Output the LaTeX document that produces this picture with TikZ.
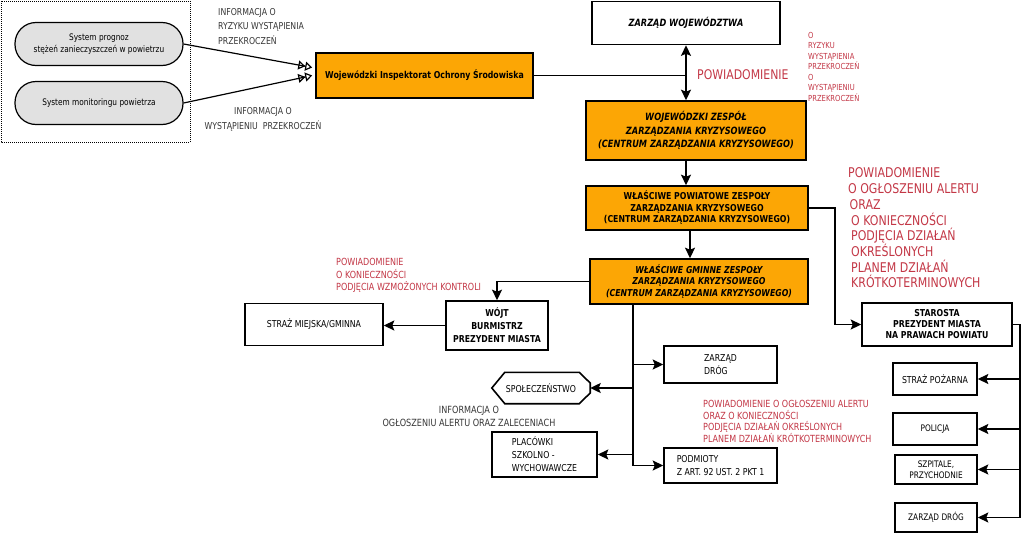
\documentclass[tikz,border=0pt]{standalone}
\usepackage{fontspec}
\setmainfont{DejaVu Sans}[FakeStretch=0.82]
\usetikzlibrary{arrows.meta}
\definecolor{orangeC}{RGB}{252,166,5}
\definecolor{redT}{RGB}{195,55,70}
\definecolor{grayT}{RGB}{55,55,55}
\definecolor{pill}{RGB}{225,225,225}
\newcommand\myfs[2]{\fontsize{#1}{#2}\selectfont}
\begin{document}
\begin{tikzpicture}[x=1pt,y=-1pt,
 box/.style={draw,line width=1.6pt,inner sep=1pt,align=center,font=\myfs{9.5}{12}},
 obox/.style={box,fill=orangeC},
 sbox/.style={draw,line width=1.2pt,fill=pill,rounded corners=21pt,minimum width=168pt,minimum height=43pt,font=\myfs{9}{11.5},align=center},
 conn/.style={line width=1.5pt},
 arr/.style={conn,-{Stealth[length=10.5pt,width=10pt,inset=2pt]}},
 lbl/.style={inner sep=0pt,align=left,anchor=west},
 otip/.style={line width=1.2pt,-{Triangle[open,length=7pt,width=9pt,line width=1.2pt]Triangle[open,length=7pt,width=9pt,line width=1.2pt]}}
]
\useasboundingbox (0,0) rectangle (1024,533);
\fill[white] (0,0) rectangle (1024,533);

% dotted frame
\draw[line width=1pt,dash pattern=on 1pt off 1pt] (1,1) rectangle (190,142);

% nodes
\node[sbox] (prog) at (99,44) {System prognoz\\stężeń zanieczyszczeń w powietrzu};
\node[sbox] (mon) at (99,103) {System monitoringu powietrza};
\node[obox,minimum width=217pt,minimum height=45pt,font=\bfseries\myfs{9.5}{12}] (wios) at (424.5,75.5) {Wojewódzki Inspektorat Ochrony Środowiska};
\node[box,minimum width=188pt,minimum height=43pt,font=\bfseries\itshape\myfs{10}{12}] (zw) at (686,23) {ZARZĄD WOJEWÓDZTWA};
\node[obox,minimum width=220pt,minimum height=59pt,font=\bfseries\itshape\myfs{10}{13.5}] (wzzk) at (696,130.5) {WOJEWÓDZKI ZESPÓŁ\\ZARZĄDZANIA KRYZYSOWEGO\\(CENTRUM ZARZĄDZANIA KRYZYSOWEGO)};
\node[obox,minimum width=222pt,minimum height=44pt,font=\bfseries\myfs{9.5}{11.5}] (pow) at (697,208) {WŁAŚCIWE POWIATOWE ZESPOŁY\\ZARZĄDZANIA KRYZYSOWEGO\\(CENTRUM ZARZĄDZANIA KRYZYSOWEGO)};
\node[obox,minimum width=218pt,minimum height=45pt,font=\bfseries\itshape\myfs{9.5}{11.5}] (gm) at (699,281.5) {WŁAŚCIWE GMINNE ZESPOŁY\\ZARZĄDZANIA KRYZYSOWEGO\\(CENTRUM ZARZĄDZANIA KRYZYSOWEGO)};
\node[box,minimum width=150pt,minimum height=43pt,font=\bfseries\myfs{9.5}{11}] (star) at (937,324.5) {STAROSTA\\PREZYDENT MIASTA\\NA PRAWACH POWIATU};
\node[box,minimum width=84pt,minimum height=32pt] (sp) at (935,379) {STRAŻ POŻARNA};
\node[box,minimum width=84pt,minimum height=32pt,font=\myfs{9}{11}] (pol) at (935,429) {POLICJA};
\node[box,minimum width=82pt,minimum height=29pt,font=\myfs{9}{11}] (szp) at (936,469.5) {SZPITALE,\\ PRZYCHODNIE};
\node[box,minimum width=82pt,minimum height=29pt,font=\myfs{9}{11}] (zd2) at (936,517.5) {ZARZĄD DRÓG};
\node[box,minimum width=102pt,minimum height=49pt,font=\bfseries\myfs{9.5}{13}] (wojt) at (497,325.5) {WÓJT\\BURMISTRZ\\PREZYDENT MIASTA};
\node[box,minimum width=138pt,minimum height=42pt] (smg) at (314,324.5) {STRAŻ MIEJSKA/GMINNA};
\node[box,minimum width=113pt,minimum height=37pt,align=left,font=\myfs{9.5}{12.5}] (zd1) at (720.5,364.5) {ZARZĄD\\DRÓG};
\node[inner sep=1pt,minimum width=98pt,minimum height=31pt,font=\myfs{9.5}{12}] (spol) at (541,388) {SPOŁECZEŃSTWO};
\node[box,minimum width=105pt,minimum height=45pt,align=left,font=\myfs{9.5}{13}] (plac) at (544.5,454.5) {PLACÓWKI\\SZKOLNO -\\WYCHOWAWCZE};
\node[box,minimum width=113pt,minimum height=35pt,align=left,font=\myfs{9.5}{13}] (pod) at (720.5,465.5) {PODMIOTY\\Z ART. 92 UST. 2 PKT 1};

\draw[line width=1.6pt] (spol.west) -- ([xshift=13pt]spol.north west) -- ([xshift=-11pt]spol.north east) -- ([yshift=5pt]spol.east) -- ([yshift=-5pt]spol.east) -- ([xshift=-11pt]spol.south east) -- ([xshift=13pt]spol.south west) -- cycle;

% labels
\node[lbl,text=grayT,font=\myfs{9.5}{14.5}] (l1) at (218,26.5) {INFORMACJA O\\ RYZYKU WYSTĄPIENIA\\ PRZEKROCZEŃ};
\node[inner sep=0pt,align=center,text=grayT,font=\myfs{9.5}{15}] (l2) at (263,119.5) {INFORMACJA O\\WYSTĄPIENIU\ \ PRZEKROCZEŃ};
\node[lbl,text=redT,font=\myfs{13.3}{15}] (l3) at (697,75) {POWIADOMIENIE};
\node[lbl,text=redT,font=\myfs{8.3}{10.5}] (l4) at (808,66.5) {O\\RYZYKU\\WYSTĄPIENIA\\PRZEKROCZEŃ\\O\\WYSTĄPIENIU\\PRZEKROCZEŃ};
\node[lbl,text=redT,font=\myfs{13.4}{15.7}] (l5) at (848,228) {POWIADOMIENIE\\O OGŁOSZENIU ALERTU\\\hspace*{1.5pt}ORAZ\\\hspace*{3pt}O KONIECZNOŚCI\\\hspace*{3pt}PODJĘCIA DZIAŁAŃ\\\hspace*{3pt}OKREŚLONYCH\\\hspace*{3pt}PLANEM DZIAŁAŃ\\\hspace*{3pt}KRÓTKOTERMINOWYCH};
\node[lbl,text=redT,font=\myfs{9.8}{12.5}] (l6) at (336,275.5) {POWIADOMIENIE\\O KONIECZNOŚCI\\PODJĘCIA WZMOŻONYCH KONTROLI};
\node[lbl,text=redT,font=\myfs{9.8}{11.7}] (l7) at (703,421.5) {POWIADOMIENIE O OGŁOSZENIU ALERTU\\ORAZ O KONIECZNOŚCI\\PODJĘCIA DZIAŁAŃ OKREŚLONYCH\\PLANEM DZIAŁAŃ KRÓTKOTERMINOWYCH};
\node[inner sep=0pt,align=center,text=grayT,font=\myfs{9.9}{13}] (l8) at (469,416.5) {INFORMACJA O\\OGŁOSZENIU ALERTU ORAZ ZALECENIACH};

% connectors
\draw[otip] (prog.east) -- ([xshift=-3pt,yshift=8pt]wios.west);
\draw[otip] (mon.east) -- ([xshift=-3pt,yshift=0pt]wios.west);
\draw[conn] (wios.east) -- (wios.east -| zw.south);
\draw[conn,{Stealth[length=10.5pt,width=10pt,inset=2pt]}-{Stealth[length=10.5pt,width=10pt,inset=2pt]}] (zw.south) -- (zw.south |- wzzk.north);
\draw[arr] (wzzk.south -| zw.south) -- (zw.south |- pow.north);
\draw[arr] ([xshift=-7pt]pow.south) -- ([xshift=-9pt]gm.north);
\draw[arr] (pow.east) -- ++(26,0) |- (star.west);
\coordinate (sv) at (1020,324.5);
\draw[arr] (star.east) -- (sv) |- (zd2.east);
\foreach \n in {sp,pol,szp} \draw[arr] (sv |- \n.east) -- (\n.east);
\draw[arr] (gm.west) -| (wojt.north);
\draw[arr] (wojt.west) -- (wojt.west -| smg.east);
\coordinate (gx) at (633,0);
\draw[arr] (gx |- gm.south) |- (pod.west);
\draw[arr] (gx |- zd1.west) -- (zd1.west);
\draw[arr] (gx |- spol.east) -- (spol.east);
\draw[arr] (gx |- plac.east) -- (plac.east);
\end{tikzpicture}
\end{document}
